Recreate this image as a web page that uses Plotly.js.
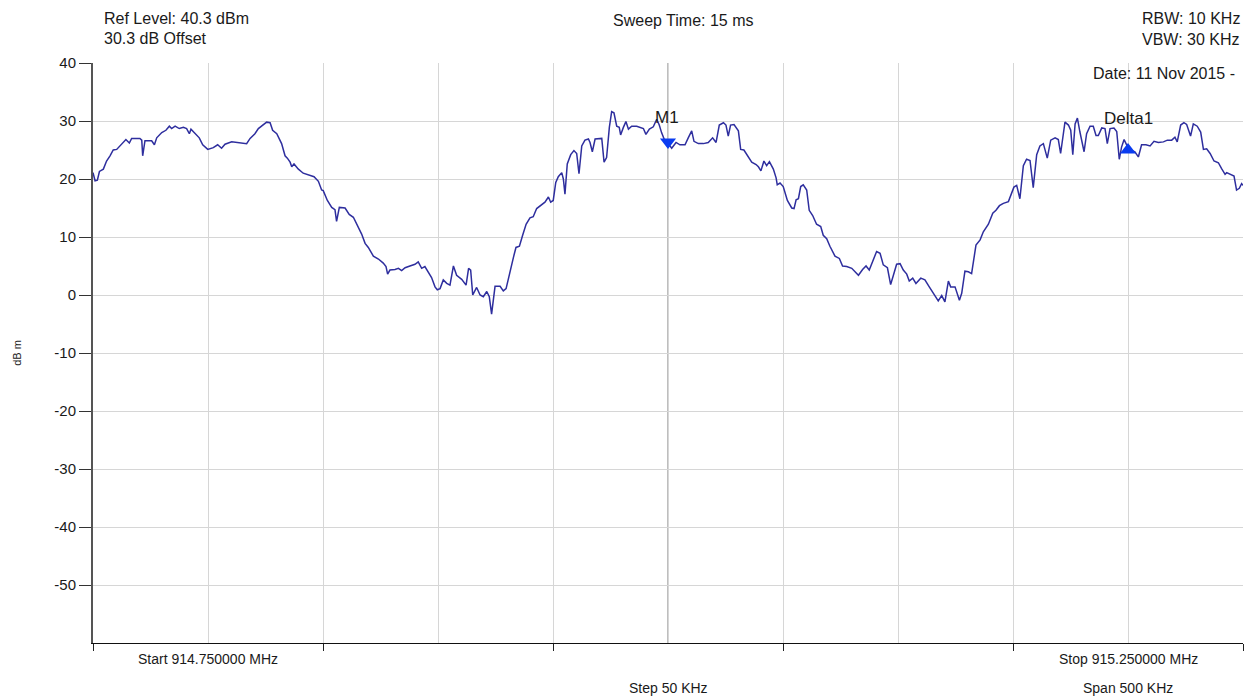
<!DOCTYPE html>
<html>
<head>
<meta charset="utf-8">
<script src="https://cdn.plot.ly/plotly-3.0.1.min.js"></script>
<style>html,body{margin:0;padding:0;background:#fff;}#chart{width:1250px;height:698px;}</style>
</head>
<body>
<div id="chart"></div>
<script>
// Sweep settings
const startMHz = 914.75;
const spanKHz = 500;
const stepKHz = 50;

// Trace: frequency offset from start (kHz) and level (dBm)
const offsetKHz = [0,0.9,1.9,2.8,4.5,5.9,7.4,8.8,10.3,12.5,14.3,15.8,16.8,20.4,21.2,21.6,22.6,25.5,26.7,27.7,29.9,31.7,33.2,34.2,35.7,37.5,39.3,40.7,41.9,42.6,44.8,46.2,47.7,49.9,52.3,54.2,55.9,57.4,60.3,62.5,64.6,66.8,68.3,70.4,71.9,74.1,75.5,77.0,78.1,79.9,82.0,83.5,84.5,85.7,86.4,87.4,89.3,91.4,94.3,96.1,98.0,99.4,100.1,101.9,103.8,105.2,105.9,107.1,109.6,111.4,113.2,114.6,116.8,118.3,119.7,121.9,124.1,126.2,127.4,128.1,129.1,
131.3,132.8,134.2,135.7,137.8,140.0,141.4,142.9,144.3,145.8,147.2,148.7,149.7,150.9,152.3,153.8,155.2,156.7,158.1,160.3,162.2,163.3,164.2,165.1,166.8,168.3,169.7,171.2,172.3,173.3,174.8,177.0,178.4,179.6,181.3,182.8,183.9,185.4,186.8,188.3,190.0,191.4,192.9,194.6,196.5,198.0,199.0,200.1,201.2,202.3,203.8,204.5,205.2,206.2,207.7,209.1,210.3,211.3,212.5,213.9,215.4,216.1,217.1,218.3,219.7,221.2,222.2,223.3,224.5,225.5,226.5,227.7,228.8,229.4,230.6,231.7,232.8,234.2,236.4,239.3,240.4,241.9,243.6,245.1,246.2,247.2,248.7,250.1,251.6,253.5,255.2,
257.4,258.8,260.3,261.3,263.2,265.4,267.5,269.4,270.9,272.3,274.1,275.2,276.2,277.2,278.7,280.6,281.6,283.0,284.9,286.4,288.3,289.3,290.4,291.7,292.9,294.1,295.8,297.0,297.5,298.7,300.1,301.9,303.8,304.8,305.7,306.7,307.7,308.8,310.3,311.4,312.9,314.6,316.4,317.5,319.0,320.4,322.6,324.5,325.9,327.7,329.9,332.8,334.6,336.1,337.5,
339.3,340.7,342.2,343.6,345.4,346.8,348.0,349.4,350.9,352.3,353.8,354.9,356.4,357.8,359.9,361.7,363.6,365.4,367.5,369.0,370.4,371.9,372.9,374.8,376.7,377.7,379.1,380.6,382.0,383.9,385.7,387.1,389.3,391.2,392.6,394.1,395.8,398.0,399.4,400.4,401.6,403.0,404.5,405.9,407.4,408.8,410.3,411.7,413.2,414.9,416.4,418.3,419.7,420.7,422.6,424.1,425.1,426.0,427.0,428.0,429.1,430.9,432.0,433.5,434.9,436.1,437.1,438.6,440.0,441.0,442.2,443.9,445.1,446.2,447.2,448.3,449.4,451.2,453.0,454.5,455.9,457.8,459.6,461.3,463.2,465.4,467.1,469.0,470.4,471.4,472.9,474.3,475.5,477.2,478.4,480.1,481.6,482.8,484.2,485.7,487.4,489.3,490.7,492.2,492.9,494.7,496.1,497.2,498.4,499.4,500];
const levelDbm = [21.1,19.7,19.8,21.3,21.7,23.1,24.0,25.0,25.1,26.1,26.8,26.2,27.0,27.0,26.7,24.0,26.6,26.6,25.9,27.1,28.0,28.4,29.1,28.7,29.1,28.7,28.9,28.7,27.8,28.6,27.7,27.1,25.9,25.1,25.4,25.9,25.3,26.0,26.4,26.3,26.2,26.1,27.0,27.8,28.7,29.4,29.8,29.7,28.4,27.8,26.1,24.0,23.6,22.9,22.1,22.6,21.7,21.0,20.6,20.4,19.6,18.1,18.0,16.3,15.1,14.7,12.7,15.1,15.0,13.9,13.4,12.2,10.5,8.9,8.2,6.7,6.2,5.5,4.9,3.6,4.3,
4.4,4.6,4.2,4.7,5.0,5.3,5.7,4.6,4.9,4.0,3.0,1.4,0.9,1.1,2.6,2.0,1.7,5.0,3.4,2.7,1.7,4.6,4.3,0.0,1.3,0.0,-0.3,0.6,-0.3,-3.3,1.5,1.5,0.7,1.1,3.7,6.5,8.2,8.4,10.3,12.2,13.3,13.5,14.9,15.4,16.0,16.9,16.0,16.3,19.4,20.4,21.1,20.0,17.4,22.6,24.2,24.9,24.4,20.9,25.7,26.7,26.9,26.3,24.7,26.9,27.0,27.0,22.9,23.7,28.9,31.6,31.4,29.1,28.9,27.6,28.9,29.9,28.6,29.1,29.1,28.7,27.7,28.6,29.0,30.3,29.3,28.0,26.5,26.1,25.3,26.3,25.9,
25.9,27.1,28.3,26.5,26.1,26.1,26.3,27.1,26.3,29.3,29.7,29.3,27.4,29.3,29.4,28.3,25.1,25.0,23.8,22.9,22.5,22.1,21.4,23.1,22.3,23.0,21.7,20.2,19.0,19.3,18.7,16.3,15.0,14.9,16.4,16.6,18.7,19.0,18.1,14.6,13.7,12.2,11.8,10.3,9.7,8.4,6.7,6.3,5.0,4.9,4.6,3.4,4.4,5.0,4.3,
6.0,7.5,7.2,5.2,4.7,1.8,3.4,5.3,5.4,4.3,3.6,2.4,2.9,2.0,2.9,2.6,1.4,0.3,-1.0,-0.1,-1.2,2.4,1.4,1.4,-0.9,0.3,4.1,4.0,3.7,8.6,9.5,10.9,12.2,14.1,14.6,15.4,15.8,16.1,17.8,18.6,18.9,16.6,22.3,23.4,23.2,18.5,24.2,25.7,26.1,23.6,26.7,27.1,26.8,24.4,29.8,29.3,28.4,24.2,29.5,30.5,28.1,24.7,27.8,29.1,29.1,27.5,27.5,28.8,28.7,26.1,28.7,28.8,28.2,23.4,25.5,26.8,25.9,25.0,24.7,23.8,25.9,25.9,25.7,26.5,26.3,26.4,26.7,26.7,27.2,26.4,29.3,29.7,29.4,27.4,29.5,29.1,28.1,25.1,25.2,24.4,23.1,22.8,21.8,20.8,21.1,20.8,20.5,18.1,18.4,19.2,18.9];

// Markers
const markerNames = ['M1', 'Delta1'];
const markerOffsetKHz = [250, 450];
const markerLevel = [26.4, 25.0];
const markerSymbols = ['triangle-down', 'triangle-up'];

// Y ticks
const yTicks = [-50, -40, -30, -20, -10, 0, 10, 20, 30, 40];

const freqMHz = offsetKHz.map(k => startMHz + k / 1000);
const markerFreq = markerOffsetKHz.map(k => startMHz + k / 1000);
const stopMHz = startMHz + spanKHz / 1000;
const centerMHz = startMHz + spanKHz / 2000;

const FONT = 'Liberation Sans, Arial, sans-serif';
const labelShift = [24, 32];
const labelXShift = [-1, 0];

const traces = [
  {
    x: freqMHz, y: levelDbm, type: 'scatter', mode: 'lines',
    line: {color: '#2e2e9e', width: 1.5}, hoverinfo: 'x+y'
  },
  {
    x: markerFreq, y: markerLevel, type: 'scatter', mode: 'markers',
    marker: {symbol: markerSymbols, size: 14, color: '#0a3cf0', line: {width: 0}}
  }
];

const annotations = [
  {text: 'Ref Level: 40.3 dBm', xref: 'paper', yref: 'paper', x: 0.008, y: 1, yshift: 45, xanchor: 'left', yanchor: 'middle', showarrow: false},
  {text: '30.3 dB Offset', xref: 'paper', yref: 'paper', x: 0.008, y: 1, yshift: 25, xanchor: 'left', yanchor: 'middle', showarrow: false},
  {text: 'Sweep Time: 15 ms', xref: 'x', yref: 'paper', x: centerMHz, y: 1, yshift: 43, xshift: 15, xanchor: 'center', yanchor: 'middle', showarrow: false},
  {text: 'RBW: 10 KHz', xref: 'paper', yref: 'paper', x: 1, y: 1, yshift: 45, xshift: -1, xanchor: 'right', yanchor: 'middle', showarrow: false},
  {text: 'VBW: 30 KHz', xref: 'paper', yref: 'paper', x: 1, y: 1, yshift: 24, xshift: -1, xanchor: 'right', yanchor: 'middle', showarrow: false},
  {text: 'Date: 11 Nov 2015 -', xref: 'paper', yref: 'paper', x: 1, y: 1, yshift: -10, xshift: -6, xanchor: 'right', yanchor: 'middle', showarrow: false},
  {text: 'Start ' + startMHz.toFixed(6) + ' MHz', xref: 'x', yref: 'paper', x: startMHz + stepKHz / 1000, y: 0, yshift: -16, xanchor: 'center', yanchor: 'middle', showarrow: false, font: {size: 14}},
  {text: 'Stop ' + stopMHz.toFixed(6) + ' MHz', xref: 'x', yref: 'paper', x: stopMHz - stepKHz / 1000, y: 0, yshift: -16, xanchor: 'center', yanchor: 'middle', showarrow: false, font: {size: 14}},
  {text: 'Step ' + stepKHz + ' KHz', xref: 'x', yref: 'paper', x: centerMHz, y: 0, yshift: -45, xanchor: 'center', yanchor: 'middle', showarrow: false, font: {size: 14}},
  {text: 'Span ' + spanKHz + ' KHz', xref: 'x', yref: 'paper', x: stopMHz - stepKHz / 1000, y: 0, yshift: -45, xanchor: 'center', yanchor: 'middle', showarrow: false, font: {size: 14}}
];
markerNames.forEach((n, i) => {
  annotations.push({text: n, xref: 'x', yref: 'y', x: markerFreq[i], y: markerLevel[i], yshift: labelShift[i], xshift: labelXShift[i], xanchor: 'center', yanchor: 'middle', showarrow: false, font: {size: 17}});
});

const layout = {
  width: 1250, height: 698,
  margin: {l: 93, r: 7, t: 63, b: 55},
  paper_bgcolor: '#ffffff', plot_bgcolor: '#ffffff',
  showlegend: false,
  font: {family: FONT, size: 16, color: '#1a1a1a'},
  xaxis: {
    range: [startMHz, stopMHz], dtick: 0.1, tick0: startMHz,
    showticklabels: false, ticks: 'outside', ticklen: 7, tickwidth: 1, tickcolor: '#222',
    showgrid: true, gridcolor: '#d6d6d6', gridwidth: 1,
    minor: {dtick: 0.05, tick0: startMHz, showgrid: true, gridcolor: '#d6d6d6', gridwidth: 1, ticks: ''},
    showline: true, linecolor: '#111', linewidth: 1, zeroline: false, fixedrange: true
  },
  yaxis: {
    range: [-60, 40], tickvals: yTicks, ticktext: yTicks.map(String),
    ticks: 'outside', ticklen: 12, tickwidth: 1, tickcolor: '#333',
    tickfont: {size: 15, color: '#1a1a1a'},
    showgrid: true, gridcolor: '#d6d6d6', gridwidth: 1,
    showline: true, linecolor: '#555', linewidth: 2, zeroline: false,
    title: {text: 'dB m', font: {size: 11, color: '#222'}, standoff: 30},
    fixedrange: true
  },
  shapes: [
    {type: 'line', xref: 'x', yref: 'paper', x0: centerMHz, x1: centerMHz, y0: 0, y1: 1, line: {color: '#a8a8a8', width: 1.5}, layer: 'below'}
  ],
  annotations: annotations
};

Plotly.newPlot('chart', traces, layout, {displayModeBar: false, staticPlot: true});
</script>
</body>
</html>
